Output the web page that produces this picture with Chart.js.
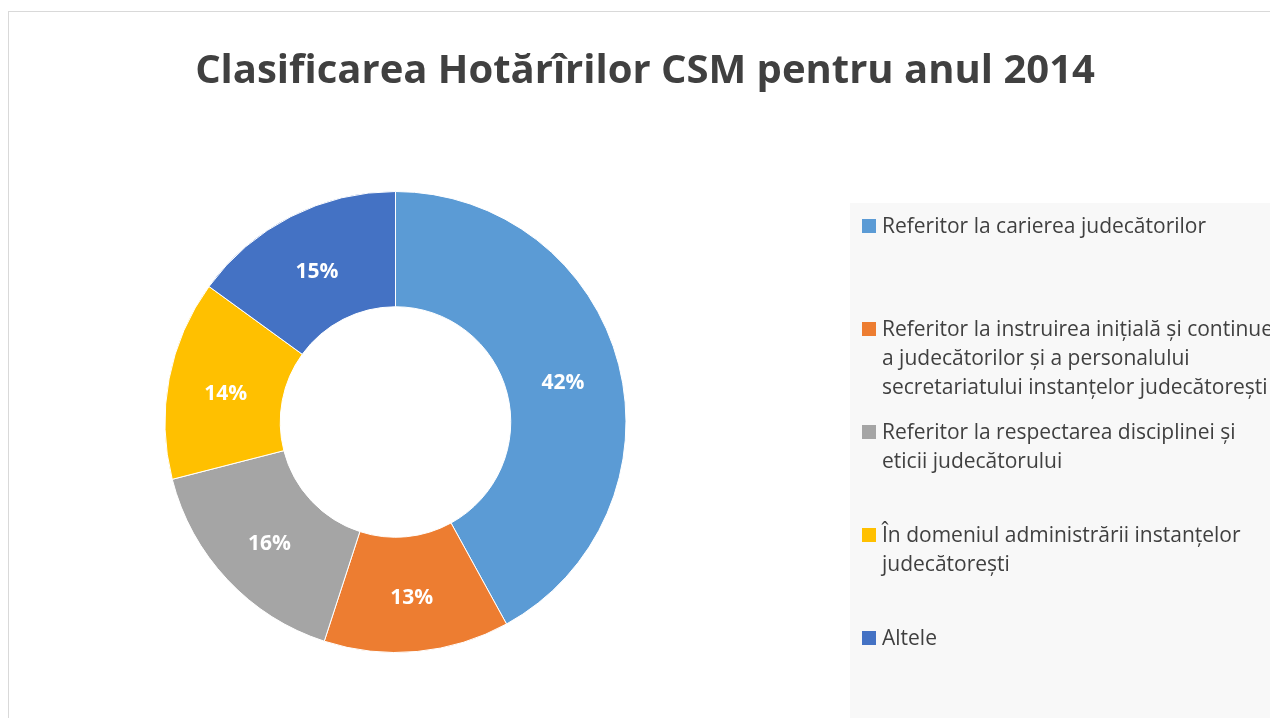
<!DOCTYPE html>
<html>
<head>
<meta charset="utf-8">
<script src="https://cdn.jsdelivr.net/npm/chart.js@4"></script>
<style>
	body { margin: 0; background: #ffffff; }
	canvas { display: block; }
</style>
</head>
<body>
<canvas id="chart" width="1270" height="718"></canvas>
<script>
const chartTitle = 'Clasificarea Hotărîrilor CSM pentru anul 2014';

// each category is split in the lines the legend shows
const categories = [
	['Referitor la carierea judecătorilor'],
	['Referitor la instruirea inițială și continue', 'a judecătorilor și a personalului', 'secretariatului instanțelor judecătorești'],
	['Referitor la respectarea disciplinei și', 'eticii judecătorului'],
	['În domeniul administrării instanțelor', 'judecătorești'],
	['Altele']
];
const shares = [42, 13, 16, 14, 15];
const sliceColors = ['#5B9BD5', '#ED7D31', '#A5A5A5', '#FFC000', '#4472C4'];

const FONT = '"Open Sans", sans-serif';
const TEXT_COLOR = '#404040';

// frame, title and the grey legend panel
const decorPlugin = {
	id: 'decor',
	beforeDraw(chart)
	{
		const ctx = chart.ctx;
		ctx.save();
		ctx.strokeStyle = '#d9d9d9';
		ctx.lineWidth = 1;
		ctx.strokeRect(8.5, 11.5, 1400, 800);

		ctx.fillStyle = TEXT_COLOR;
		ctx.font = 'bold 40px ' + FONT;
		ctx.textAlign = 'center';
		ctx.textBaseline = 'alphabetic';
		ctx.fillText(chartTitle, 645, 83);

		ctx.fillStyle = '#f8f8f8';
		ctx.fillRect(850, 203, 420, 515);
		ctx.restore();
	},
	afterDraw(chart)
	{
		const ctx = chart.ctx;
		const meta = chart.getDatasetMeta(0);
		const values = chart.data.datasets[0].data;
		const total = values.reduce((a, b) => a + b, 0);
		ctx.save();

		// percentage labels in the middle of each ring slice
		ctx.font = 'bold 21px ' + FONT;
		ctx.fillStyle = '#ffffff';
		ctx.textAlign = 'center';
		ctx.textBaseline = 'middle';
		meta.data.forEach((arc, i) => {
			const pos = arc.tooltipPosition();
			const pct = Math.round(values[i] / total * 100) + '%';
			ctx.fillText(pct, pos.x, pos.y + 4);
		});

		// legend
		ctx.font = '21px ' + FONT;
		ctx.textAlign = 'left';
		chart.data.labels.forEach((lines, i) => {
			const y0 = 226 + i * 103;
			ctx.fillStyle = chart.data.datasets[0].backgroundColor[i];
			ctx.fillRect(862, y0 - 7, 14, 14);
			ctx.fillStyle = TEXT_COLOR;
			lines.forEach((line, j) => {
				ctx.fillText(line, 882, y0 + 1 + j * 29);
			});
		});
		ctx.restore();
	}
};

const chart = new Chart(document.getElementById('chart'),
{
	type: 'doughnut',
	data:
	{
		labels: categories,
		datasets: [{
			data: shares,
			backgroundColor: sliceColors,
			borderColor: '#ffffff',
			borderWidth: 1
		}]
	},
	options:
	{
		responsive: false,
		animation: false,
		cutout: '50%',
		layout:
		{
			padding: { left: 164, top: 191, right: 643, bottom: 65 }
		},
		plugins:
		{
			title: { display: false },
			legend: { display: false },
			tooltip: { enabled: false }
		}
	},
	plugins: [decorPlugin]
});
</script>
</body>
</html>
